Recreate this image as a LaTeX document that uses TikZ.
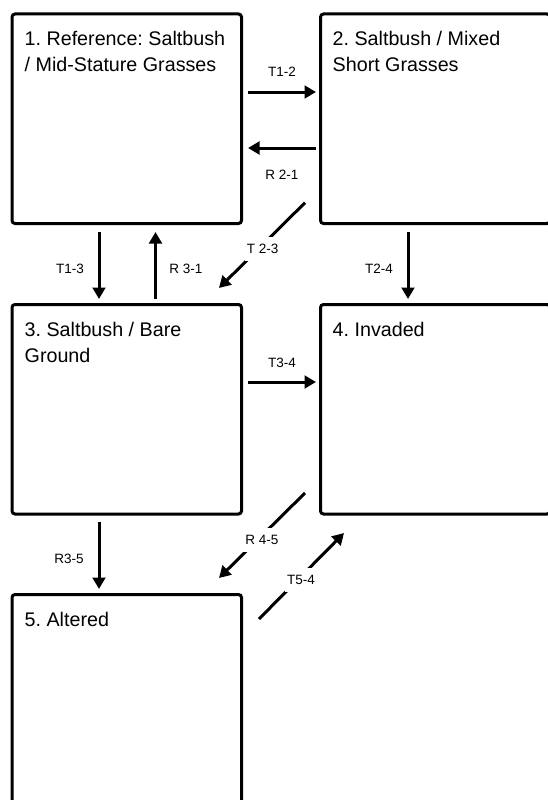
\documentclass[tikz,border=0pt]{standalone}
\usepackage{fontspec}
\setmainfont{Liberation Sans}
\usetikzlibrary{arrows.meta}
\frenchspacing
\begin{document}
\begin{tikzpicture}[x=1pt,y=-1pt,
 statebox/.style={draw, line width=3pt, rounded corners=3pt, minimum width=229.5pt, minimum height=209.5pt, inner sep=0pt},
 title/.style={anchor=north west, inner sep=0pt, align=left, font=\fontsize{19.7}{26}\selectfont},
 arr/.style={line width=3pt, -{Triangle[length=11.5pt,width=12.7pt]}},
 lbl/.style={fill=white, font=\fontsize{13.5}{16}\selectfont, inner xsep=2pt, inner ysep=7pt}]
\clip (0,0) rectangle (548,800);
% boxes
\node[statebox] (b1) at (126.75,118.75) {};
\node[statebox] (b2) at (435.25,118.75) {};
\node[statebox] (b3) at (126.75,409.25) {};
\node[statebox] (b4) at (435.25,409.25) {};
\node[statebox] (b5) at (126.75,699.25) {};
% titles
\node[title] (t1) at ([shift={(14,19)}]b1.north west) {1. Reference: Saltbush\\/ Mid-Stature Grasses};
\node[title] (t2) at ([shift={(13.5,19)}]b2.north west) {2. Saltbush / Mixed\\Short Grasses};
\node[title] (t3) at ([shift={(14,19)}]b3.north west) {3. Saltbush / Bare\\Ground};
\node[title] (t4) at ([shift={(13.5,19)}]b4.north west) {4. Invaded};
\node[title] (t5) at ([shift={(14,19)}]b5.north west) {5. Altered};
% arrows
\draw[arr] ([shift={(5,-26.75)}]b1.east) -- ([shift={(-3,-26.75)}]b2.west);
\draw[arr] ([shift={(-3,29.25)}]b2.west) -- ([shift={(5,29.25)}]b1.east);
\draw[arr] ([shift={(-14,-22.3)}]b2.south west) -- ([shift={(-24,-15)}]b3.north east);
\draw[arr] ([shift={(-27.75,7)}]b1.south) -- ([shift={(-27.75,-4)}]b3.north);
\draw[arr] ([shift={(28.75,-4)}]b3.north) -- ([shift={(28.75,7)}]b1.south);
\draw[arr] ([shift={(-27.25,7)}]b2.south) -- ([shift={(-27.25,-4)}]b4.north);
\draw[arr] ([shift={(5,-27.25)}]b3.east) -- ([shift={(-3,-27.25)}]b4.west);
\draw[arr] ([shift={(-14,-22.5)}]b4.south west) -- ([shift={(-24,-15)}]b5.north east);
\draw[arr] ([shift={(16,26)}]b5.north east) -- ([shift={(25,17.5)}]b4.south west);
\draw[arr] ([shift={(-27.75,6.5)}]b3.south) -- ([shift={(-27.75,-4)}]b5.north);
% labels
\node[lbl] (l12) at (282,72) {T1-2};
\node[lbl] (l21) at (282,175) {R 2-1};
\node[lbl] (l23) at (262.7,249) {T 2-3};
\node[lbl] (l13) at (70,269) {T1-3};
\node[lbl] (l31) at (186,269) {R 3-1};
\node[lbl] (l24) at (379,269) {T2-4};
\node[lbl] (l34) at (282,363) {T3-4};
\node[lbl] (l45) at (262,540) {R 4-5};
\node[lbl] (l54) at (301,580) {T5-4};
\node[lbl] (l35) at (69,559) {R3-5};
\end{tikzpicture}
\end{document}
